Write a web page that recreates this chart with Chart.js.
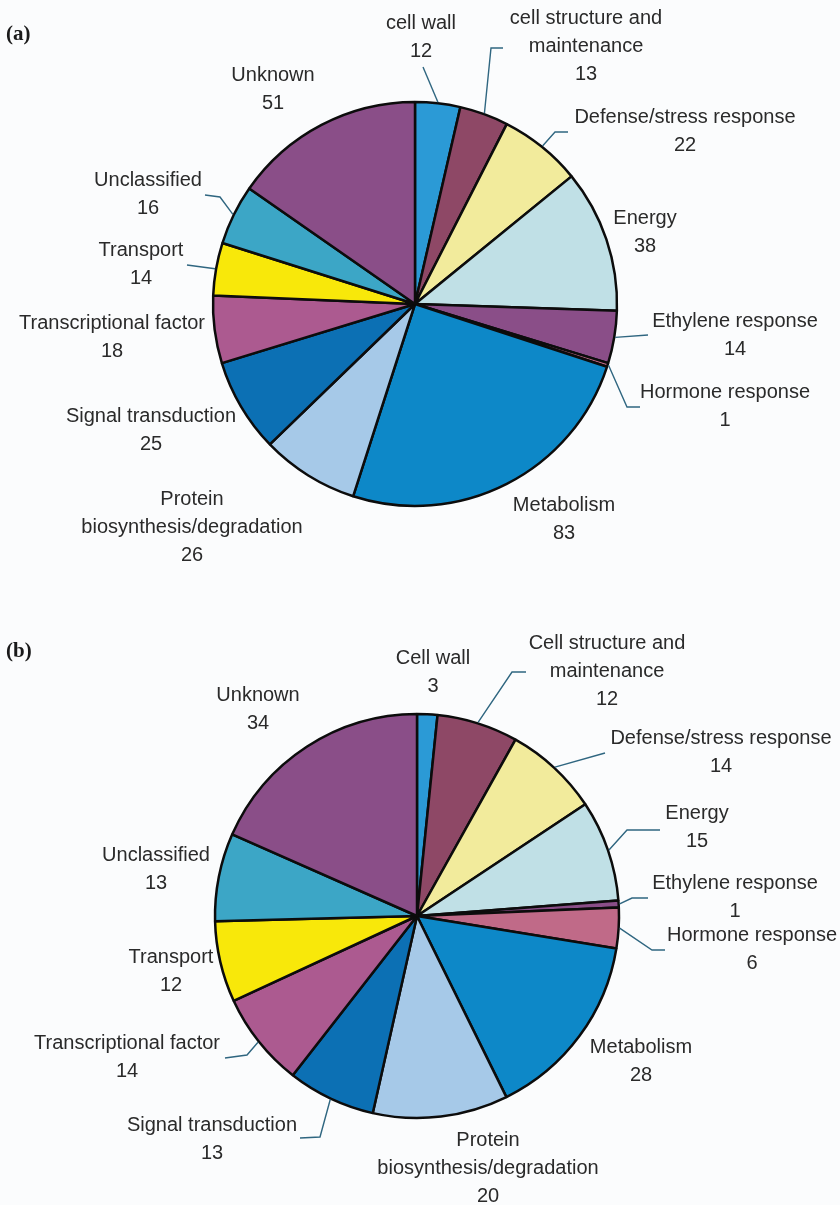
<!DOCTYPE html>
<html>
<head>
<meta charset="utf-8">
<script src="https://cdn.jsdelivr.net/npm/chart.js@4.4.1/dist/chart.umd.min.js"></script>
<style>
  html, body { margin: 0; padding: 0; background: #fbfcfd; }
  .panel { position: absolute; left: 0; width: 840px; }
</style>
</head>
<body>
<div class="panel" style="top:0;height:600px"><canvas id="pieA" width="840" height="600"></canvas></div>
<div class="panel" style="top:600px;height:605px"><canvas id="pieB" width="840" height="605"></canvas></div>
<script>
// functional categories, clockwise from 12 o'clock
const categoriesA = ['cell wall', 'cell structure and\nmaintenance', 'Defense/stress response', 'Energy',
  'Ethylene response', 'Hormone response', 'Metabolism', 'Protein\nbiosynthesis/degradation',
  'Signal transduction', 'Transcriptional factor', 'Transport', 'Unclassified', 'Unknown'];
const countsA = [12, 13, 22, 38, 14, 1, 83, 26, 25, 18, 14, 16, 51];

const categoriesB = ['Cell wall', 'Cell structure and\nmaintenance', 'Defense/stress response', 'Energy',
  'Ethylene response', 'Hormone response', 'Metabolism', 'Protein\nbiosynthesis/degradation',
  'Signal transduction', 'Transcriptional factor', 'Transport', 'Unclassified', 'Unknown'];
const countsB = [3, 12, 14, 15, 1, 6, 28, 20, 13, 14, 12, 13, 34];

const sliceColours = ['#2b9ad6', '#8e4866', '#f2eb9c', '#c0e0e6', '#8a4e88', '#c06a88', '#0d88c8',
  '#a6c9e8', '#0c70b4', '#ac5a90', '#f8e80a', '#3ca6c6', '#8a4e88'];

// label anchors (first text line), offsets from the pie centre
const labelPosA = [[6, -281], [171, -286], [270, -187], [230, -86], [320, 17], [310, 88], [149, 201],
  [-223, 195], [-264, 112], [-303, 19], [-274, -54], [-267, -124], [-142, -229]];
const labelPosB = [[16, -258], [190, -273], [304, -178], [280, -103], [318, -33], [335, 19], [224, 131],
  [71, 224], [-205, 209], [-290, 127], [-246, 41], [-261, -61], [-159, -221]];

// leader line bend points after the rim, offsets from the pie centre
const leadersA = [[[8, -237]], [[76, -256], [88, -256]], [[140, -172], [153, -172]], null,
  [[233, 31]], [[212, 103], [225, 103]], null, null, null, null,
  [[-228, -39]], [[-195, -107], [-210, -109]], null];
const leadersB = [null, [[95, -244], [109, -244]], [[188, -163]], [[210, -86], [243, -86]],
  [[215, -18], [231, -18]], [[235, 34], [248, 34]], null, null,
  [[-97, 221], [-117, 222]], [[-170, 139], [-192, 142]], null, null, null];

const calloutPlugin = {
  id: 'callouts',
  afterDatasetsDraw(chart, args, opts) {
    const ctx = chart.ctx;
    const meta = chart.getDatasetMeta(0);
    const values = chart.data.datasets[0].data;
    ctx.save();
    ctx.strokeStyle = '#2f6680';
    ctx.lineWidth = 1.4;
    ctx.fillStyle = '#2a2a2a';
    ctx.font = '20px "Liberation Sans", Arial, sans-serif';
    ctx.textAlign = 'center';
    ctx.textBaseline = 'middle';
    meta.data.forEach((arc, i) => {
      const p = arc.getProps(['x', 'y', 'startAngle', 'endAngle', 'outerRadius'], true);
      const bends = opts.leaders[i];
      if (bends) {
        const mid = (p.startAngle + p.endAngle) / 2;
        ctx.beginPath();
        ctx.moveTo(p.x + Math.cos(mid) * (p.outerRadius + 1), p.y + Math.sin(mid) * (p.outerRadius + 1));
        bends.forEach(([dx, dy]) => ctx.lineTo(p.x + dx, p.y + dy));
        ctx.stroke();
      }
      const lines = chart.data.labels[i].split('\n').concat(String(values[i]));
      const [dx, dy] = opts.positions[i];
      lines.forEach((t, k) => ctx.fillText(t, p.x + dx, p.y + dy + k * 28));
    });
    ctx.font = 'bold 21px "Liberation Serif", "Times New Roman", serif';
    ctx.textAlign = 'left';
    ctx.fillStyle = '#1a1a1a';
    ctx.fillText(opts.tag, 6, opts.tagY);
    ctx.restore();
  }
};

function makePie(id, labels, values, positions, leaders, tag, tagY, padding) {
  return new Chart(document.getElementById(id), {
    type: 'pie',
    data: {
      labels: labels,
      datasets: [{
        data: values,
        backgroundColor: sliceColours,
        borderColor: '#0c0c0c',
        borderWidth: 2.5,
        hoverOffset: 0
      }]
    },
    options: {
      responsive: false,
      animation: false,
      radius: 202,
      layout: { padding: padding },
      plugins: {
        legend: { display: false },
        tooltip: { enabled: false },
        callouts: { positions: positions, leaders: leaders, tag: tag, tagY: tagY }
      }
    },
    plugins: [calloutPlugin]
  });
}

makePie('pieA', categoriesA, countsA, labelPosA, leadersA, '(a)', 35,
  { left: 205, right: 215, top: 94, bottom: 86 });
makePie('pieB', categoriesB, countsB, labelPosB, leadersB, '(b)', 52,
  { left: 207, right: 213, top: 106, bottom: 79 });
</script>
</body>
</html>
